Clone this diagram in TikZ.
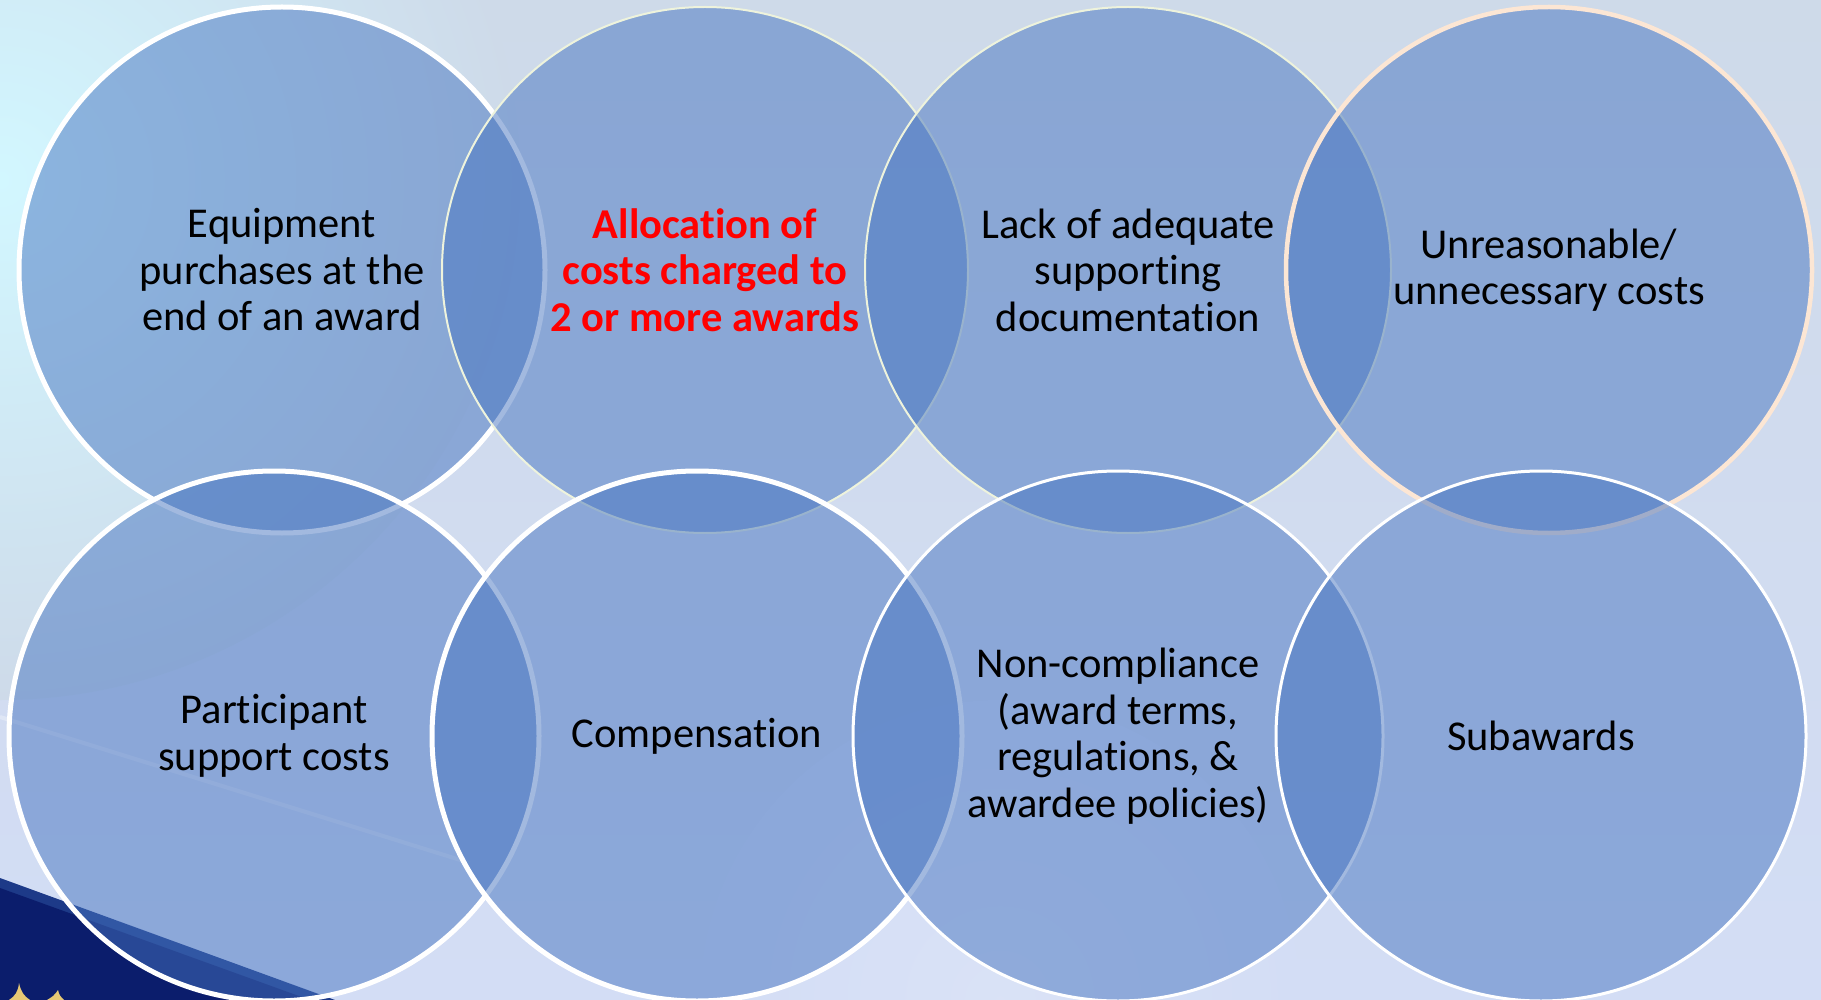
\documentclass[tikz,border=0pt]{standalone}
\usepackage{fontspec}
\setmainfont{Carlito}[Ligatures={NoCommon}]
\usetikzlibrary{shapes.geometric}
\definecolor{bgtop}{HTML}{CEDAE9}
\definecolor{bgbot}{HTML}{D3DDF5}
\definecolor{bgcyan}{HTML}{D2F7FF}
\definecolor{circfill}{HTML}{4674C0}
\definecolor{greenwhite}{HTML}{EEF3DC}
\definecolor{peach}{HTML}{FCE6D4}
\definecolor{navy}{HTML}{0B1D6C}
\definecolor{navyedge}{HTML}{1D3A88}
\definecolor{gold}{HTML}{E6C874}
\definecolor{alertred}{HTML}{FF0000}
\tikzset{
  bubble/.style={circle, inner sep=0pt, minimum size=#1, fill=circfill,
    fill opacity=0.5, text opacity=1, draw opacity=1, align=center,
    font=\fontsize{42.5}{46.5}\selectfont, text=black},
  thickwhite/.style={draw=white, line width=5pt},
  thinwhite/.style={draw=white, line width=3pt},
  thingreen/.style={draw=greenwhite, line width=2pt},
  peachline/.style={draw=peach, line width=4.5pt}
}
\begin{document}
\begin{tikzpicture}[x=1pt,y=-1pt]
\useasboundingbox (0,0) rectangle (1821,1000);
\begin{scope}
\clip (0,0) rectangle (1821,1000);
% background
\shade[top color=bgtop, bottom color=bgbot] (0,0) rectangle (1821,1000);
\shade[inner color=bgcyan, outer color=bgtop] (0,180) circle (520);
\shade[inner color=bgbot!85!white, outer color=bgbot] (1000,1000) circle (300);
% dark wedge bottom-left
\fill[navyedge] (0,878) -- (335,1000) -- (0,1000) -- cycle;
\fill[navy] (0,888) -- (310,1000) -- (0,1000) -- cycle;
% light streak
\draw[white, opacity=0.3, line width=4pt] (0,717) -- (470,863);
% gold tips
\fill[gold] (9,1000) .. controls (15,996) and (18,992) .. (19,983) .. controls (21,992) and (24,996) .. (30,1000) -- cycle;
\fill[gold] (47,1000) .. controls (52,997) and (55,995) .. (58,990) .. controls (59,995) and (61,997) .. (64,1000) -- cycle;
\end{scope}
% top row
\node[bubble=526pt, thickwhite] (t1) at (282,270) {Equipment\\purchases at the\\end of an award};
\node[bubble=526pt, thingreen] (t2) at (705,270) {\textcolor{alertred}{\bfseries Allocation of}\\\textcolor{alertred}{\bfseries costs charged to}\\\textcolor{alertred}{\bfseries 2 or more awards}};
\node[bubble=526pt, thingreen] (t3) at (1128,270) {Lack of adequate\\supporting\\documentation};
\node[bubble=526pt, peachline] (t4) at (1549,270) {Unreasonable/\\unnecessary costs};
% bottom row
\node[bubble=530pt, thickwhite] (b1) at (274,736) {Participant\\support costs};
\node[bubble=530pt, thickwhite] (b2) at (697,736) {Compensation};
\node[bubble=530pt, thinwhite] (b3) at (1118,736) {Non-compliance\\(award terms,\\regulations, \&\\awardee policies)};
\node[bubble=530pt, thinwhite] (b4) at (1541,736) {Subawards};
\end{tikzpicture}
\end{document}
